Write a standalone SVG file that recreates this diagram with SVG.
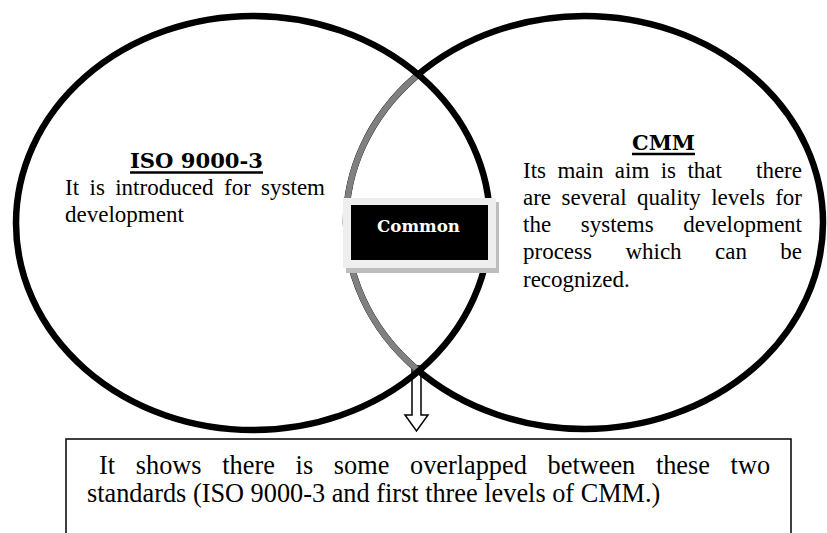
<svg xmlns="http://www.w3.org/2000/svg" width="827" height="533" viewBox="0 0 827 533">
  <style>
    .ring { fill: none; stroke: #000; stroke-width: 6.5; }
    .ringGray { fill: none; stroke: #808080; stroke-width: 6; }
    .body { font-family: "Liberation Serif", "Times New Roman", serif; font-size: 23px; fill: #000; }
    .note { font-family: "Liberation Serif", "Times New Roman", serif; font-size: 26.3px; fill: #000; }
    .head { font-family: "DejaVu Serif", "Liberation Serif", serif; font-weight: bold; font-size: 20px; fill: #000; }
    .ul { stroke: #000; stroke-width: 2.6; }
    .common { font-family: "DejaVu Serif", "Liberation Serif", serif; font-weight: bold; font-size: 17px; fill: #fff; }
  </style>
  <defs>
    <clipPath id="insideLeft">
      <ellipse cx="253" cy="223" rx="236" ry="206"/>
    </clipPath>
  </defs>
  <rect x="0" y="0" width="827" height="533" fill="#fff"/>

  <g id="connectors">
    <polygon points="412,366 421,366 421,415 428,415 416.5,431 405,415 412,415" fill="#fff" stroke="#000" stroke-width="1.5" stroke-linejoin="miter"/>
  </g>

  <g id="cmm">
    <ellipse class="ring" cx="584.5" cy="222.5" rx="238.5" ry="206.5"/>
    <ellipse class="ringGray" cx="584.5" cy="222.5" rx="238.5" ry="206.5" clip-path="url(#insideLeft)"/>
    <text class="head" x="632" y="150" textLength="63" lengthAdjust="spacingAndGlyphs">CMM</text>
    <line class="ul" x1="632" y1="154" x2="695" y2="154"/>
    <text class="body">
      <tspan x="523" y="177.5">Its</tspan><tspan x="557.4" y="177.5">main</tspan><tspan x="614.8" y="177.5">aim</tspan><tspan x="660.7" y="177.5">is</tspan><tspan x="687.4" y="177.5">that</tspan><tspan x="756" y="177.5">there</tspan>
      <tspan x="523" y="204.8">are</tspan><tspan x="561.5" y="204.8">several</tspan><tspan x="636.9" y="204.8">quality</tspan><tspan x="711.2" y="204.8">levels</tspan><tspan x="775.2" y="204.8">for</tspan>
      <tspan x="523" y="232">the</tspan><tspan x="580.8" y="232">systems</tspan><tspan x="683.2" y="232">development</tspan>
      <tspan x="523" y="259.4">process</tspan><tspan x="625.4" y="259.4">which</tspan><tspan x="715" y="259.4">can</tspan><tspan x="780.3" y="259.4">be</tspan>
      <tspan x="523" y="286.7">recognized.</tspan>
    </text>
  </g>

  <g id="iso">
    <ellipse class="ring" cx="253" cy="223" rx="237" ry="207"/>
    <text class="head" x="130" y="168" textLength="133" lengthAdjust="spacingAndGlyphs">ISO 9000-3</text>
    <line class="ul" x1="130" y1="172.5" x2="263" y2="172.5"/>
    <text class="body">
      <tspan x="65" y="195">It</tspan><tspan x="89.5" y="195">is</tspan><tspan x="115.2" y="195">introduced</tspan><tspan x="224" y="195">for</tspan><tspan x="261.1" y="195">system</tspan>
      <tspan x="65" y="222">development</tspan>
    </text>
  </g>

  <g id="common">
    <rect x="346" y="202" width="153" height="71" fill="#bdbdbd"/>
    <rect x="343" y="198" width="153" height="70" fill="#eeeeee"/>
    <rect x="351" y="205" width="137" height="55" fill="#000"/>
    <text class="common" x="418.5" y="232" text-anchor="middle" textLength="83" lengthAdjust="spacingAndGlyphs">Common</text>
  </g>

  <g id="note">
    <rect x="66" y="439" width="725" height="110" fill="#fff" stroke="#000" stroke-width="1.5"/>
    <text class="note">
      <tspan x="99" y="474">It</tspan><tspan x="135.8" y="474">shows</tspan><tspan x="222.3" y="474">there</tspan><tspan x="295.6" y="474">is</tspan><tspan x="333.8" y="474">some</tspan><tspan x="410" y="474">overlapped</tspan><tspan x="547.6" y="474">between</tspan><tspan x="655.9" y="474">these</tspan><tspan x="730.6" y="474">two</tspan>
      <tspan x="87" y="502">standards (ISO 9000-3 and first three levels of CMM.)</tspan>
    </text>
  </g>
</svg>
